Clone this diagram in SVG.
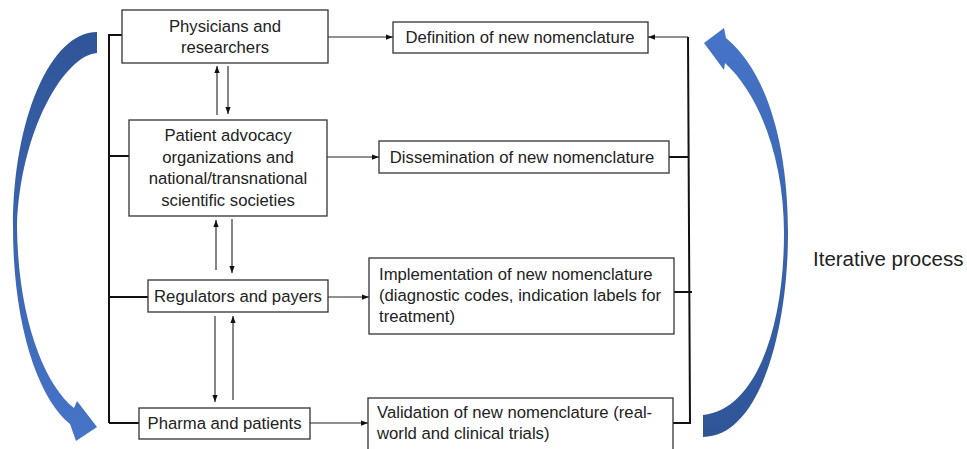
<svg xmlns="http://www.w3.org/2000/svg" width="967" height="449" viewBox="0 0 967 449">
<style>
  .box { fill: #ffffff; stroke: #333333; stroke-width: 1.3; }
  .t { font-family: "Liberation Sans", Arial, sans-serif; font-size: 16.7px; fill: #222222; }
  .c { text-anchor: middle; }
  .bus { fill: none; stroke: #111111; stroke-width: 2; }
  .thin { fill: none; stroke: #222222; stroke-width: 1.1; }
</style>
<defs>
  <marker id="ah" viewBox="0 0 8 6" refX="8" refY="3" markerWidth="7" markerHeight="5.5" orient="auto" markerUnits="userSpaceOnUse">
    <path d="M0,0 L8,3 L0,6 Z" fill="#111111"/>
  </marker>
  <linearGradient id="gL" x1="0" y1="0" x2="0" y2="1">
    <stop offset="0" stop-color="#2F5597"/>
    <stop offset="1" stop-color="#4674C8"/>
  </linearGradient>
  <linearGradient id="gR" x1="0" y1="0" x2="0" y2="1">
    <stop offset="0" stop-color="#4674C8"/>
    <stop offset="1" stop-color="#2F5597"/>
  </linearGradient>
</defs>

<g id="cycle-left">
  <path d="M97,32 C50,32 13,120 13,227 C13,330 40,400 70,424 L76,441 L97,427 L77,401 L74,408 C45,385 18,320 17,227 C20,130 65,55 97,53 Z" fill="url(#gL)"/>
</g>
<g id="cycle-right">
  <path d="M703,437 C760,437 788,330 788,233 C788,140 765,70 726,38 L724,28 L704,43 L724,70 L725,63 C760,95 784,160 784,233 C784,330 755,410 703,415 Z" fill="url(#gR)"/>
</g>

<g id="connectors">
  <path class="bus" d="M109,35 V423 M108,35 H122 M109,156 H129 M109,297 H148 M109,423 H139"/>
  <path class="bus" d="M688,37 L690,423 M669,157 H689 M674,292 H692 M673,423 H691"/>
  <path class="thin" d="M688,37 H648" marker-end="url(#ah)"/>
  <path class="thin" d="M328,37 H393" marker-end="url(#ah)"/>
  <path class="thin" d="M327,157 H379" marker-end="url(#ah)"/>
  <path class="thin" d="M328,297 H369" marker-end="url(#ah)"/>
  <path class="thin" d="M310,423 H368" marker-end="url(#ah)"/>
  <path class="thin" d="M217,115 V66" marker-end="url(#ah)"/>
  <path class="thin" d="M228,66 V114" marker-end="url(#ah)"/>
  <path class="thin" d="M216,270 V220" marker-end="url(#ah)"/>
  <path class="thin" d="M232,219 V273" marker-end="url(#ah)"/>
  <path class="thin" d="M215,316 V402" marker-end="url(#ah)"/>
  <path class="thin" d="M233,400 V316" marker-end="url(#ah)"/>
</g>

<g id="physicians">
  <rect class="box" x="122" y="10" width="206" height="53"/>
  <text class="t c" x="225" y="32">Physicians and</text>
  <text class="t c" x="225" y="53">researchers</text>
</g>
<g id="patient-advocacy">
  <rect class="box" x="129" y="120" width="198" height="96"/>
  <text class="t c" x="228" y="141">Patient advocacy</text>
  <text class="t c" x="228" y="162.5">organizations and</text>
  <text class="t c" x="228" y="184">national/transnational</text>
  <text class="t c" x="228" y="205.5">scientific societies</text>
</g>
<g id="regulators">
  <rect class="box" x="148" y="280" width="180" height="32"/>
  <text class="t c" x="238" y="301.5">Regulators and payers</text>
</g>
<g id="pharma">
  <rect class="box" x="139" y="408" width="171" height="31"/>
  <text class="t c" x="224.5" y="429">Pharma and patients</text>
</g>
<g id="definition">
  <rect class="box" x="393" y="22" width="255" height="31"/>
  <text class="t c" x="520" y="43">Definition of new nomenclature</text>
</g>
<g id="dissemination">
  <rect class="box" x="379" y="141" width="290" height="32"/>
  <text class="t c" x="522" y="162.5">Dissemination of new nomenclature</text>
</g>
<g id="implementation">
  <rect class="box" x="369" y="258" width="305" height="76"/>
  <text class="t" x="379" y="280">Implementation of new nomenclature</text>
  <text class="t" x="379" y="301">(diagnostic codes, indication labels for</text>
  <text class="t" x="379" y="322">treatment)</text>
</g>
<g id="validation">
  <rect class="box" x="368" y="398" width="305" height="60"/>
  <text class="t" x="377" y="417.5">Validation of new nomenclature (real-</text>
  <text class="t" x="377" y="439">world and clinical trials)</text>
</g>
<g id="iterative-label">
  <text class="t" x="813" y="265.5" style="font-size:20.5px">Iterative process</text>
</g>
</svg>
